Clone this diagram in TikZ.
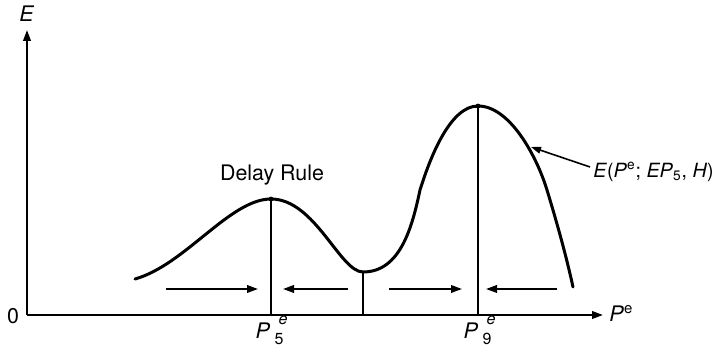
\documentclass[tikz,border=0pt]{standalone}
\usepackage{fontspec}
\setmainfont{TeX Gyre Heros}
\usetikzlibrary{arrows.meta}
\begin{document}
\begin{tikzpicture}[x=0.5pt,y=-0.5pt,
  axis/.style={line width=1pt,-{Triangle[length=5.5pt,width=3.8pt]}},
  mover/.style={line width=0.9pt,-{Triangle[length=5.5pt,width=3.8pt]}},
  guide/.style={line width=0.6pt},
  curve/.style={line width=1.5pt,line cap=round},
  lbl/.style={inner sep=0pt,font=\fontsize{10.7}{13}\selectfont},
  sml/.style={inner sep=0pt,font=\fontsize{8}{10}\selectfont}]
\useasboundingbox (0,0) rectangle (718,346);
% axes
\coordinate (O) at (27,315);
\coordinate (Ytop) at (27,30);
\coordinate (Xend) at (603,315);
\draw[axis] (O) -- (Ytop);
\draw[axis] (O) -- (Xend);
\node[lbl] (Elab) at (27,14) {\textit{E}};
\node[lbl] (zero) at (13,316) {0};
\node[lbl,anchor=west] (Pelab) at (609,313) {\textit{P}\textsuperscript{e}};
% curve
\draw[curve] (135,279) .. controls (185,265) and (230,199) .. (271,199)
  .. controls (315,199) and (340,272) .. (363,272)
  .. controls (400,272) and (412,228) .. (420,190)
  .. controls (430,158) and (450,106) .. (478,106)
  .. controls (510,106) and (537,157) .. (547,190)
  .. controls (557,223) and (566,255) .. (573,287);
% peaks and guides
\coordinate (pk1) at (271,199);
\coordinate (mn) at (363,271);
\coordinate (pk2) at (478,106);
\coordinate (b1) at (271,315);
\coordinate (b2) at (363,315);
\coordinate (b3) at (478,315);
\draw[guide] (pk1) -- (b1);
\draw[guide] (mn) -- (b2);
\draw[guide] (pk2) -- (b3);
\fill (pk1) circle (2.4);
\fill (pk2) circle (2.4);
% dynamics arrows
\coordinate (a1s) at (166,289); \coordinate (a1e) at (258,289);
\coordinate (a2s) at (348,289); \coordinate (a2e) at (283,289);
\coordinate (a3s) at (389,289); \coordinate (a3e) at (462,289);
\coordinate (a4s) at (557,289); \coordinate (a4e) at (486,289);
\draw[mover] (a1s) -- (a1e);
\draw[mover] (a2s) -- (a2e);
\draw[mover] (a3s) -- (a3e);
\draw[mover] (a4s) -- (a4e);
% labels
\node[lbl] (delay) at (272,175) {Delay Rule};
\node[lbl] (P5) at (263,331) {\textit{P}};
\node[sml] (P5s) at (279,339) {5};
\node[sml] (P5e) at (283,320) {\textit{e}};
\node[lbl] (P9) at (471,331) {\textit{P}};
\node[sml] (P9s) at (487,339) {9};
\node[sml] (P9e) at (491,320) {\textit{e}};
\node[inner sep=0pt,font=\fontsize{9.8}{12}\selectfont,anchor=west] (Elabel) at (593,172) {\textit{E}(\textit{P}\textsuperscript{e}; \textit{EP}\textsubscript{5}, \textit{H})};
\coordinate (tip) at (531,147);
\draw[line width=0.8pt,-{Triangle[length=5pt,width=3.4pt]}] (Elabel.west) ++(-3,-5) -- (tip);
\end{tikzpicture}
\end{document}
